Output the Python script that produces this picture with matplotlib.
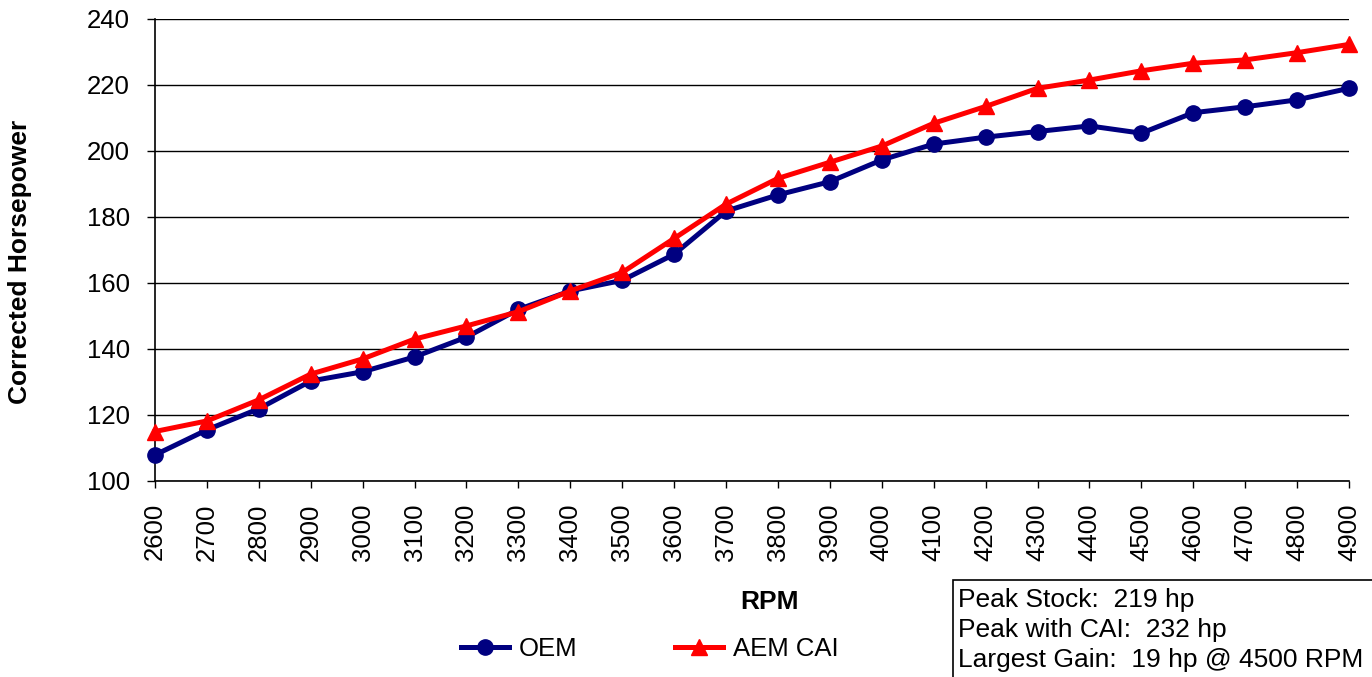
import matplotlib
matplotlib.use("Agg")
import matplotlib.pyplot as plt
from matplotlib.patches import Rectangle
from matplotlib.lines import Line2D

rpm = [2600, 2700, 2800, 2900, 3000, 3100, 3200, 3300, 3400, 3500, 3600, 3700,
       3800, 3900, 4000, 4100, 4200, 4300, 4400, 4500, 4600, 4700, 4800, 4900]
oem = [107.9, 115.5, 121.9, 130.3, 133.1, 137.6, 143.6, 152.0, 157.6, 160.8, 168.7, 181.8,
       186.7, 190.7, 197.3, 202.1, 204.2, 205.9, 207.6, 205.4, 211.6, 213.4, 215.5, 219.0]
aem = [115.0, 118.2, 124.6, 132.4, 137.0, 143.0, 147.0, 151.3, 157.6, 163.2, 173.5, 183.9,
       191.7, 196.6, 201.5, 208.4, 213.5, 219.0, 221.5, 224.3, 226.6, 227.6, 229.8, 232.3]
yticks = [100, 120, 140, 160, 180, 200, 220, 240]
box_lines = ["Peak Stock:  219 hp", "Peak with CAI:  232 hp", "Largest Gain:  19 hp @ 4500 RPM"]

plt.rcParams['font.family'] = ['Liberation Sans', 'DejaVu Sans']
FS = 18.5

W, H = 1372, 677
fig = plt.figure(figsize=(W / 100, H / 100), dpi=100)
ax = fig.add_axes([155 / W, 1 - 481 / H, (1349 - 155) / W, (481 - 19) / H])

x = list(range(len(rpm)))
ax.plot(x, oem, color='#000080', lw=3.6, marker='o', ms=11, label='OEM', zorder=3, clip_on=False)
ax.plot(x, aem, color='#FF0000', lw=3.6, marker='^', ms=12, label='AEM CAI', zorder=4, clip_on=False)

ax.set_xlim(0, len(rpm) - 1)
ax.set_ylim(100, 240)
ax.set_yticks(yticks)
ax.set_xticks(x)
ax.set_xticklabels([str(r) for r in rpm], rotation=90, fontsize=FS)
ax.tick_params(axis='y', labelsize=FS, length=6, width=1, direction='out', pad=12)
ax.tick_params(axis='x', length=5, width=1, direction='out', pad=11)
ax.yaxis.grid(True, color='black', lw=1)
ax.set_axisbelow(True)
for s in ['top', 'right']:
    ax.spines[s].set_visible(False)
for s in ['left', 'bottom']:
    ax.spines[s].set_linewidth(1.2)
    ax.spines[s].set_color('black')

fig.text(20 / W, 1 - 262 / H, 'Corrected Horsepower', rotation=90, fontsize=19,
         fontweight='bold', ha='center', va='center')
fig.text(770 / W, 1 - 602 / H, 'RPM', fontsize=19, fontweight='bold', ha='center', va='center')

handles = [Line2D([], [], color='#000080', lw=3.6, marker='o', ms=11),
           Line2D([], [], color='#FF0000', lw=3.6, marker='^', ms=12)]
fig.legend(handles, ['OEM', 'AEM CAI'], loc='center', bbox_to_anchor=(650 / W, 1 - 649 / H),
           ncol=2, frameon=False, fontsize=FS, handlelength=1.85, handletextpad=0.4,
           columnspacing=3.8, borderpad=0)

fig.patches.append(Rectangle((953 / W, -0.05), 0.5, (1 - 580 / H) + 0.05,
                             transform=fig.transFigure, fill=False, edgecolor='black', lw=1.2))
for i, t in enumerate(box_lines):
    fig.text(958 / W, 1 - (600 + 30 * i) / H, t, fontsize=19, ha='left', va='center')

fig.savefig('out.png', dpi=100)
